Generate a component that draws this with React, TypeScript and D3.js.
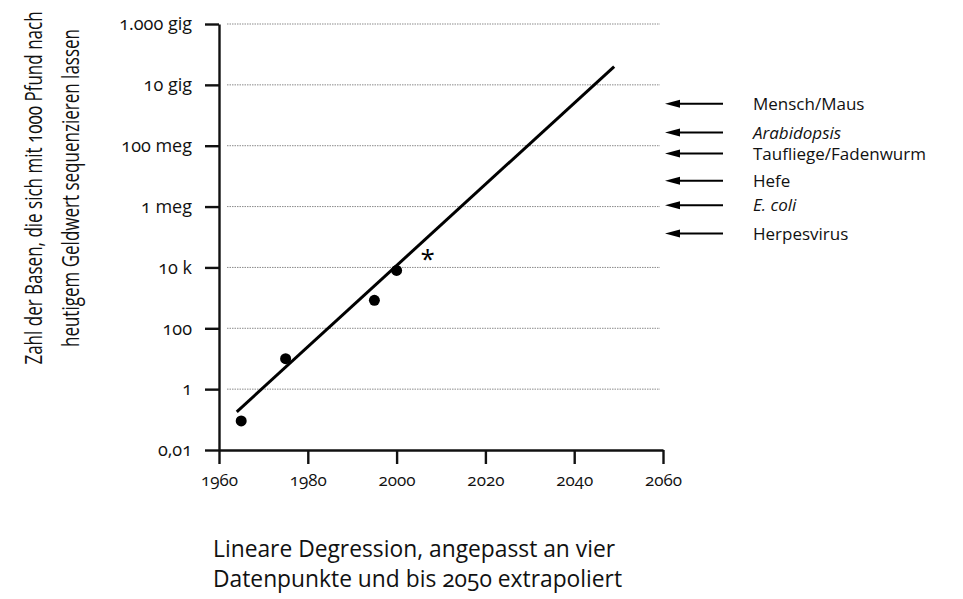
import React, { useEffect, useRef } from "react";
import * as d3 from "d3";

// Messpunkte (Jahr, Basen pro 1000 Pfund)
const pointYears = [1965, 1975, 1995, 2000];
const pointValues = [0.09, 10, 830, 8000];

// Stern (späterer Datenpunkt)
const starYear = 2007;
const starValue = 40000;

// Regressionsgerade, Endpunkte aus dem Bild gelesen
const fitYears = [1964, 2049];
const fitValues = [0.18, 4e10];

// Achsen
const xTicks = [1960, 1980, 2000, 2020, 2040, 2060];
const yTicks = [1e-2, 1, 1e2, 1e4, 1e6, 1e8, 1e10, 1e12];
const yTickLabels = ["0,01", "1", "100", "10 k", "1 meg", "100 meg", "10 gig", "1.000 gig"];

// Genomgrößen rechts
const genomeNames = ["Mensch/Maus", "Arabidopsis", "Taufliege/Fadenwurm", "Hefe", "E. coli", "Herpesvirus"];
const genomeSizes = [2.4e9, 2.7e8, 5.5e7, 7e6, 1.1e6, 1.3e5];
const genomeItalic = [false, true, false, false, true, false];

const yTitle = [
  "Zahl der Basen, die sich mit 1000 Pfund nach",
  "heutigem Geldwert sequenzieren lassen",
];
const caption = [
  "Lineare Degression, angepasst an vier",
  "Datenpunkte und bis 2050 extrapoliert",
];

const App = () => {
  const chartRef = useRef<HTMLDivElement | null>(null);

  useEffect(() => {
    const width = 963;
    const height = 599;
    const font = "'Open Sans', 'Noto Sans', sans-serif";

    d3.select(chartRef.current).selectAll("*").remove();

    const svg = d3
      .select(chartRef.current)
      .append("svg")
      .attr("width", width)
      .attr("height", height)
      .style("position", "absolute")
      .style("left", "0px")
      .style("top", "0px")
      .style("background", "#fff")
      .style("font-family", font)
      .style("font-variant-numeric", "oldstyle-nums");

    const x = d3.scaleLinear().domain([1960, 2060]).range([219, 663]);
    const y = d3.scaleLog().domain([1e-2, 1e12]).range([450, 24]);

    // gepunktete Gitterlinien
    svg
      .append("g")
      .selectAll("line")
      .data(yTicks.slice(1))
      .join("line")
      .attr("x1", 227)
      .attr("x2", 660)
      .attr("y1", (d) => y(d))
      .attr("y2", (d) => y(d))
      .attr("stroke", "#8a8a8a")
      .attr("stroke-width", 1)
      .attr("stroke-dasharray", "1.5,1");

    // x-Achse
    const xAxis = svg
      .append("g")
      .attr("transform", `translate(0,${y(1e-2)})`)
      .call(
        d3
          .axisBottom(x)
          .tickValues(xTicks)
          .tickFormat((d) => String(d))
          .tickSizeInner(14)
          .tickSizeOuter(0)
          .tickPadding(10)
      );
    xAxis.selectAll("path, line").attr("stroke", "#111").attr("stroke-width", 2.4);
    xAxis
      .selectAll("text")
      .attr("font-family", font)
      .attr("font-size", 17)
      .attr("fill", "#111");

    // y-Achse
    const yAxis = svg
      .append("g")
      .attr("transform", `translate(${x(1960)},0)`)
      .call(
        d3
          .axisLeft(y)
          .tickValues(yTicks)
          .tickFormat((d, i) => yTickLabels[i])
          .tickSizeInner(14)
          .tickSizeOuter(0)
          .tickPadding(13)
      );
    yAxis.selectAll("path, line").attr("stroke", "#111").attr("stroke-width", 2.4);
    yAxis
      .selectAll("text")
      .attr("font-family", font)
      .attr("font-size", 18)
      .attr("fill", "#111");

    // Regressionsgerade
    const line = d3
      .line<number>()
      .x((d, i) => x(fitYears[i]))
      .y((d) => y(d));
    svg
      .append("path")
      .attr("d", line(fitValues))
      .attr("fill", "none")
      .attr("stroke", "#000")
      .attr("stroke-width", 3);

    // Datenpunkte
    svg
      .append("g")
      .selectAll("circle")
      .data(pointValues)
      .join("circle")
      .attr("cx", (d, i) => x(pointYears[i]))
      .attr("cy", (d) => y(d))
      .attr("r", 5.5)
      .attr("fill", "#000");

    svg
      .append("text")
      .attr("x", x(starYear))
      .attr("y", y(starValue))
      .attr("dy", "0.72em")
      .attr("text-anchor", "middle")
      .attr("font-size", 26)
      .attr("fill", "#000")
      .text("*");

    // Pfeile mit Genomnamen
    const arrows = svg
      .append("g")
      .selectAll("g")
      .data(genomeSizes)
      .join("g")
      .attr("transform", (d) => `translate(0,${y(d)})`);

    arrows
      .append("line")
      .attr("x1", 676)
      .attr("x2", 723)
      .attr("stroke", "#000")
      .attr("stroke-width", 2);

    arrows
      .append("path")
      .attr("d", "M665,0 L680,-4 L680,4 Z")
      .attr("fill", "#000");

    arrows
      .append("text")
      .attr("x", 753)
      .attr("dy", "0.36em")
      .attr("font-size", 17)
      .attr("font-style", (d, i) => (genomeItalic[i] ? "italic" : "normal"))
      .attr("fill", "#111")
      .text((d, i) => genomeNames[i]);

    // Titel der y-Achse, gedreht und schmaler gesetzt
    const yt = svg
      .append("text")
      .attr("transform", "translate(0,188) rotate(-90) scale(0.74,1)")
      .attr("text-anchor", "middle")
      .attr("font-size", 23)
      .attr("fill", "#111");
    yTitle.forEach((t, i) => {
      yt.append("tspan")
        .attr("x", 0)
        .attr("y", 42 + i * 37)
        .text(t);
    });

    // Bildunterschrift
    const cap = svg
      .append("text")
      .attr("font-size", 22.8)
      .attr("fill", "#111");
    caption.forEach((t, i) => {
      cap.append("tspan")
        .attr("x", 213)
        .attr("y", 557 + i * 30)
        .text(t);
    });
  }, []);

  return <div ref={chartRef}></div>;
};

export default App;
